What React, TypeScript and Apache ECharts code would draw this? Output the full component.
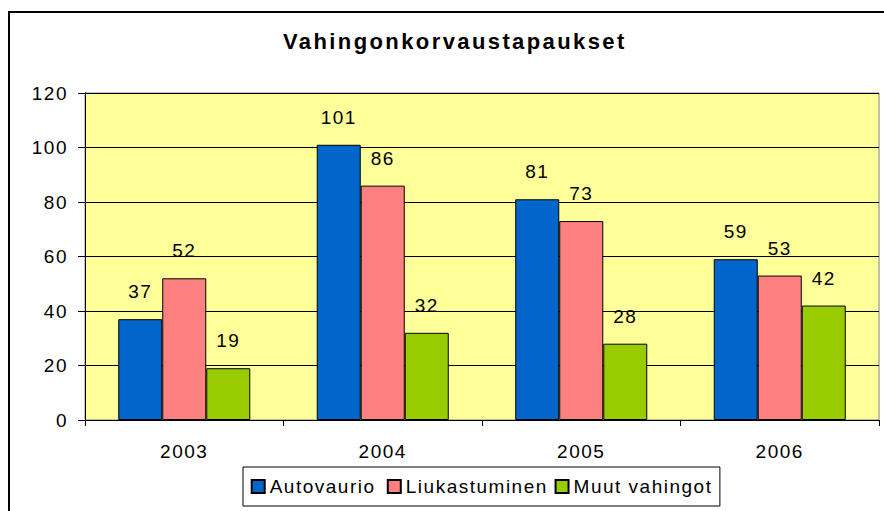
import React, { useEffect, useRef } from "react";
import * as echarts from "echarts";

const categories = ["2003", "2004", "2005", "2006"];
const seriesNames = ["Autovaurio", "Liukastuminen", "Muut vahingot"];
const autovaurio = [37, 101, 81, 59];
const liukastuminen = [52, 86, 73, 53];
const muutVahingot = [19, 32, 28, 42];
const colors = ["#0066CC", "#FF8080", "#99CC00"];
const title = "Vahingonkorvaustapaukset";

const css = `
.chart-host svg text[style*="Liberation"] { letter-spacing: 1.5px; }
.chart-host svg text[style*="22px"] { letter-spacing: 2.4px; }
`;

export default function App() {
  const ref = useRef<HTMLDivElement>(null);
  useEffect(() => {
    if (!ref.current) return;
    const chart = echarts.init(ref.current, null, { renderer: "svg" });
    const font = "'Liberation Sans', Arial, sans-serif";
    const data = [autovaurio, liukastuminen, muutVahingot];
    chart.setOption({
      animation: false,
      backgroundColor: "#FFFFFF",
      title: {
        text: title,
        left: 283,
        top: 30,
        padding: 0,
        textStyle: {
          fontFamily: font,
          fontWeight: "bold",
          fontSize: 22,
          color: "#000",
        },
      },
      graphic: [
        {
          type: "rect",
          shape: { x: 9, y: 12, width: 900, height: 520 },
          style: { fill: "none", stroke: "#000", lineWidth: 2 },
          silent: true,
          z: 100,
        },
      ],
      legend: {
        data: seriesNames,
        left: 243,
        top: 467,
        orient: "horizontal",
        padding: [10, 27, 10, 7.7],
        borderColor: "#000",
        borderWidth: 1,
        itemWidth: 13,
        itemHeight: 13,
        itemGap: 26.25,
        icon: "rect",
        textStyle: {
          fontFamily: font,
          fontSize: 19,
          color: "#000",
        },
      },
      grid: {
        left: 85,
        right: 5,
        top: 93,
        bottom: 91,
        show: true,
        backgroundColor: "#FFFF99",
        borderColor: "#808080",
        borderWidth: 1,
        containLabel: false,
      },
      xAxis: {
        type: "category",
        data: categories,
        axisLine: { show: true, lineStyle: { color: "#000", width: 1 } },
        axisTick: { show: true, alignWithLabel: false, interval: 0, length: 6, lineStyle: { color: "#000" } },
        axisLabel: { margin: 22, fontFamily: font, fontSize: 19, color: "#000" },
        splitLine: { show: false },
      },
      yAxis: {
        type: "value",
        min: 0,
        max: 120,
        interval: 20,
        axisLine: { show: true, lineStyle: { color: "#000", width: 1 } },
        axisTick: { show: true, length: 7, lineStyle: { color: "#000" } },
        axisLabel: { margin: 17, fontFamily: font, fontSize: 19, color: "#000" },
        splitLine: { show: true, lineStyle: { color: "#000", width: 1 } },
      },
      series: seriesNames.map((name, i) => ({
        name,
        type: "bar",
        data: data[i],
        barGap: "0%",
        barCategoryGap: "33.5%",
        itemStyle: { color: colors[i], borderColor: "#000", borderWidth: 1 },
        label: {
          show: true,
          position: "top",
          distance: 18,
          fontFamily: font,
          fontSize: 19,
          color: "#000",
        },
      })),
    });
    return () => chart.dispose();
  }, []);
  return (
    <>
      <style>{css}</style>
      <div
        ref={ref}
        className="chart-host"
        style={{ position: "absolute", left: 0, top: 0, width: 884, height: 511 }}
      />
    </>
  );
}
